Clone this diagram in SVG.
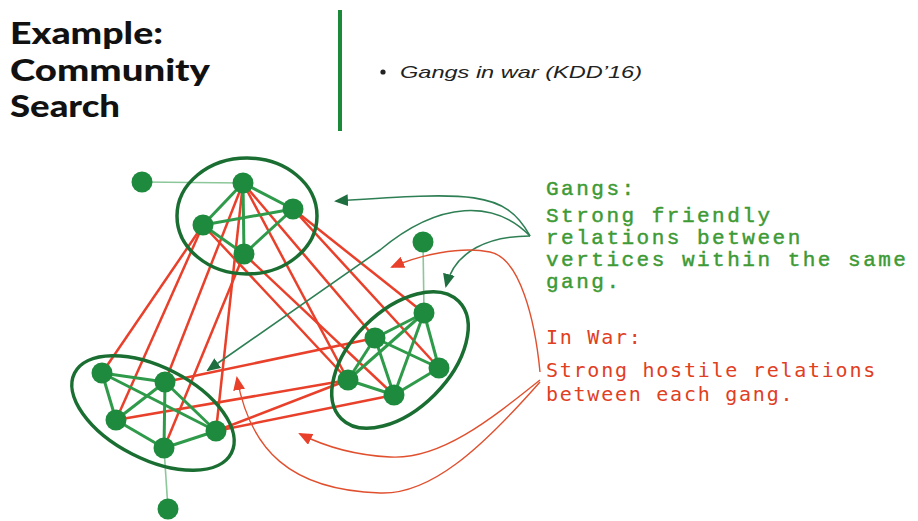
<svg xmlns="http://www.w3.org/2000/svg" width="918" height="521" viewBox="0 0 918 521">
<style>
.title{font-family:Lato,"DejaVu Sans",sans-serif;font-weight:900;font-size:31px;fill:#111}
.sub{font-family:"Liberation Sans",sans-serif;font-style:italic;font-size:17px;fill:#222}
.gt{font-family:"Liberation Mono",monospace;font-size:21px;fill:#3d9a35;stroke:#3d9a35;stroke-width:0.45px;letter-spacing:2.5px}
.rt{font-family:"DejaVu Sans Mono",monospace;font-size:20px;fill:#e0401f;letter-spacing:1.75px}
.node{fill:#1e8a3e}
.ge{stroke:#2e9a4a;stroke-width:3;fill:none}
.re{stroke:#e8402a;stroke-width:2.5;fill:none}
.oe{stroke:#8cc79a;stroke-width:1.6;fill:none}
.ell{stroke:#1a6e32;stroke-width:3.5;fill:none}
.ga{stroke:#2f7f55;stroke-width:1.6;fill:none}
.ra{stroke:#e0502f;stroke-width:1.4;fill:none}
</style>
<defs>
<marker id="mg" markerUnits="userSpaceOnUse" markerWidth="14" markerHeight="12" refX="12" refY="6" orient="auto"><path d="M0,0 L14,6 L0,12 z" fill="#1f6e40"/></marker>
<marker id="mr" markerUnits="userSpaceOnUse" markerWidth="14" markerHeight="12" refX="12" refY="6" orient="auto"><path d="M0,0 L14,6 L0,12 z" fill="#e8402a"/></marker>
</defs>
<rect width="918" height="521" fill="#fff"/>
<g id="title">
<text class="title" x="10" y="44" textLength="153" lengthAdjust="spacingAndGlyphs">Example:</text>
<text class="title" x="10" y="81" textLength="200" lengthAdjust="spacingAndGlyphs">Community</text>
<text class="title" x="10" y="117" textLength="110" lengthAdjust="spacingAndGlyphs">Search</text>
</g>
<line x1="340" y1="10" x2="340" y2="131" stroke="#1a8a3a" stroke-width="4"/>
<g id="bullet">
<circle cx="383" cy="72" r="2.6" fill="#222"/>
<text class="sub" x="400" y="78" textLength="242" lengthAdjust="spacingAndGlyphs">Gangs in war (KDD’16)</text>
</g>
<g id="connectors">
<line class="oe" x1="142" y1="182" x2="243" y2="183"/>
<line class="oe" x1="423" y1="242" x2="424" y2="313"/>
<line class="oe" x1="164" y1="448" x2="168" y2="509"/>
<line class="re" x1="203" y1="225" x2="102" y2="373"/>
<line class="re" x1="203" y1="225" x2="116" y2="420"/>
<line class="re" x1="243" y1="183" x2="165" y2="382"/>
<line class="re" x1="244" y1="254" x2="164" y2="448"/>
<line class="re" x1="243" y1="183" x2="216" y2="431"/>
<line class="re" x1="293" y1="209" x2="424" y2="313"/>
<line class="re" x1="293" y1="209" x2="439" y2="368"/>
<line class="re" x1="243" y1="183" x2="375" y2="338"/>
<line class="re" x1="243" y1="183" x2="348" y2="380"/>
<line class="re" x1="203" y1="225" x2="348" y2="380"/>
<line class="re" x1="244" y1="254" x2="394" y2="395"/>
<line class="re" x1="165" y1="382" x2="375" y2="338"/>
<line class="re" x1="116" y1="420" x2="348" y2="380"/>
<line class="re" x1="216" y1="431" x2="348" y2="380"/>
<line class="re" x1="216" y1="431" x2="394" y2="395"/>
<line class="ge" x1="243" y1="183" x2="293" y2="209"/>
<line class="ge" x1="243" y1="183" x2="203" y2="225"/>
<line class="ge" x1="243" y1="183" x2="244" y2="254"/>
<line class="ge" x1="203" y1="225" x2="293" y2="209"/>
<line class="ge" x1="203" y1="225" x2="244" y2="254"/>
<line class="ge" x1="293" y1="209" x2="244" y2="254"/>
<line class="ge" x1="102" y1="373" x2="165" y2="382"/>
<line class="ge" x1="102" y1="373" x2="116" y2="420"/>
<line class="ge" x1="102" y1="373" x2="216" y2="431"/>
<line class="ge" x1="165" y1="382" x2="116" y2="420"/>
<line class="ge" x1="165" y1="382" x2="216" y2="431"/>
<line class="ge" x1="165" y1="382" x2="164" y2="448"/>
<line class="ge" x1="116" y1="420" x2="164" y2="448"/>
<line class="ge" x1="216" y1="431" x2="164" y2="448"/>
<line class="ge" x1="424" y1="313" x2="375" y2="338"/>
<line class="ge" x1="424" y1="313" x2="348" y2="380"/>
<line class="ge" x1="424" y1="313" x2="394" y2="395"/>
<line class="ge" x1="424" y1="313" x2="439" y2="368"/>
<line class="ge" x1="375" y1="338" x2="439" y2="368"/>
<line class="ge" x1="375" y1="338" x2="348" y2="380"/>
<line class="ge" x1="375" y1="338" x2="394" y2="395"/>
<line class="ge" x1="348" y1="380" x2="394" y2="395"/>
<line class="ge" x1="439" y1="368" x2="394" y2="395"/>
<path class="ga" d="M530,236 C505,190 470,192 336,201" marker-end="url(#mg)"/>
<path class="ga" d="M530,236 C495,200 440,200 380,250 L208,370" marker-end="url(#mg)"/>
<path class="ga" d="M530,236 C490,236 455,250 446,286" marker-end="url(#mg)"/>
<path class="ra" d="M540,372 C535,320 520,258 490,252 C460,246 420,255 392,267" marker-end="url(#mr)"/>
<path class="ra" d="M540,380 C490,420 440,460 390,457 C350,455 322,445 300,434" marker-end="url(#mr)"/>
<path class="ra" d="M540,382 C480,450 430,495 380,493 C290,490 250,450 237,378" marker-end="url(#mr)"/>
</g>
<g id="gang-top">
<ellipse class="ell" cx="247" cy="216" rx="70" ry="58"/>
<circle class="node" cx="243" cy="183" r="10.5"/>
<circle class="node" cx="293" cy="209" r="10.5"/>
<circle class="node" cx="203" cy="225" r="10.5"/>
<circle class="node" cx="244" cy="254" r="10.5"/>
</g>
<g id="gang-left">
<ellipse class="ell" cx="153" cy="413" rx="88" ry="46" transform="rotate(27 153 413)"/>
<circle class="node" cx="102" cy="373" r="10.5"/>
<circle class="node" cx="165" cy="382" r="10.5"/>
<circle class="node" cx="116" cy="420" r="10.5"/>
<circle class="node" cx="216" cy="431" r="10.5"/>
<circle class="node" cx="164" cy="448" r="10.5"/>
</g>
<g id="gang-right">
<ellipse class="ell" cx="400" cy="360" rx="83" ry="49" transform="rotate(-45 400 360)"/>
<circle class="node" cx="424" cy="313" r="10.5"/>
<circle class="node" cx="375" cy="338" r="10.5"/>
<circle class="node" cx="439" cy="368" r="10.5"/>
<circle class="node" cx="348" cy="380" r="10.5"/>
<circle class="node" cx="394" cy="395" r="10.5"/>
</g>
<g id="outlier-top"><circle class="node" cx="142" cy="182" r="10.5"/></g>
<g id="outlier-right"><circle class="node" cx="423" cy="242" r="10.5"/></g>
<g id="outlier-left"><circle class="node" cx="168" cy="509" r="10.5"/></g>
<g id="label-gangs">
<text class="gt" x="546" y="195">Gangs:</text>
<text class="gt" x="546" y="222">Strong friendly</text>
<text class="gt" x="546" y="244">relations between</text>
<text class="gt" x="546" y="266">vertices within the same</text>
<text class="gt" x="546" y="288">gang.</text>
</g>
<g id="label-war">
<text class="rt" x="546" y="344">In War:</text>
<text class="rt" x="546" y="377">Strong hostile relations</text>
<text class="rt" x="546" y="401">between each gang.</text>
</g>
</svg>
